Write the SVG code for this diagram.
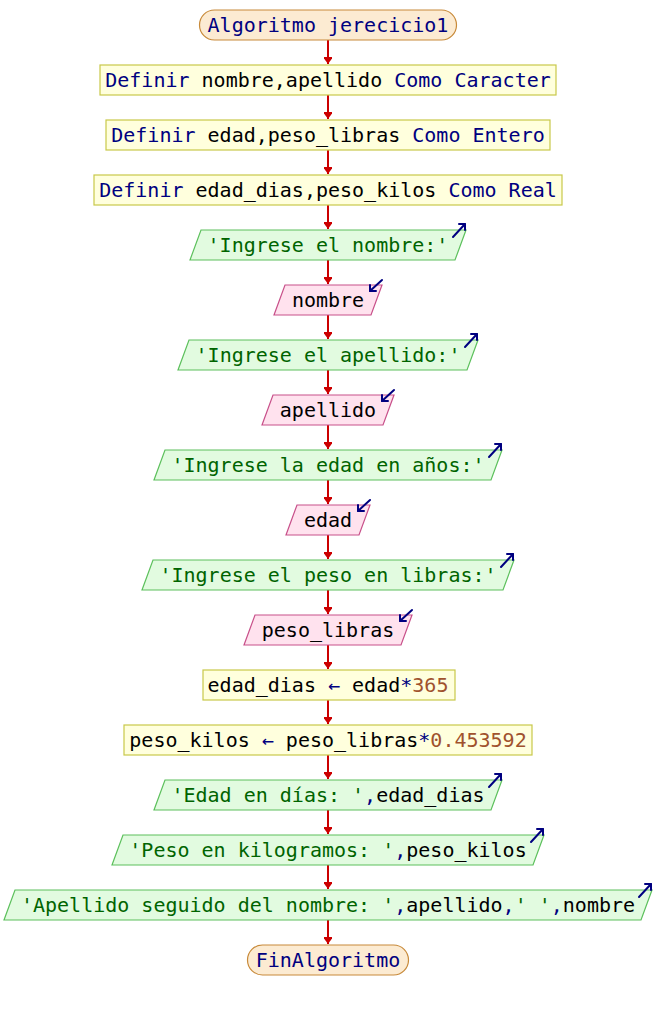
<svg xmlns="http://www.w3.org/2000/svg" width="656" height="1010" viewBox="0 0 656 1010">
<defs>
<style>
text{font-family:"DejaVu Sans Mono","Liberation Mono",monospace;font-size:20px;text-anchor:middle;fill:#000}
.kw{fill:#000080}
.str{fill:#006400}
.num{fill:#a0522d}
.term{fill:#fcebd2;stroke:#c88a3a;stroke-width:1.2}
.proc{fill:#ffffdd;stroke:#c8c84a;stroke-width:1.2}
.out{fill:#e2fbe0;stroke:#5cc05c;stroke-width:1.2}
.in{fill:#ffe2ee;stroke:#c8508a;stroke-width:1.2}
.conn{stroke:#cc0000;stroke-width:2;fill:none}
.ico{stroke:#000080;stroke-width:2;fill:none;stroke-linecap:round;stroke-linejoin:round}
</style>
<marker id="ah" markerUnits="userSpaceOnUse" markerWidth="12" markerHeight="8" refX="7" refY="4" orient="auto">
<path d="M0,-1 L7,4 L0,9 z" fill="#cc0000"/>
</marker>
</defs>
<g id="connectors">
<line class="conn" x1="328" y1="40" x2="328" y2="64" marker-end="url(#ah)"/>
<line class="conn" x1="328" y1="95" x2="328" y2="119" marker-end="url(#ah)"/>
<line class="conn" x1="328" y1="150" x2="328" y2="174" marker-end="url(#ah)"/>
<line class="conn" x1="328" y1="205" x2="328" y2="229" marker-end="url(#ah)"/>
<line class="conn" x1="328" y1="260" x2="328" y2="284" marker-end="url(#ah)"/>
<line class="conn" x1="328" y1="315" x2="328" y2="339" marker-end="url(#ah)"/>
<line class="conn" x1="328" y1="370" x2="328" y2="394" marker-end="url(#ah)"/>
<line class="conn" x1="328" y1="425" x2="328" y2="449" marker-end="url(#ah)"/>
<line class="conn" x1="328" y1="480" x2="328" y2="504" marker-end="url(#ah)"/>
<line class="conn" x1="328" y1="535" x2="328" y2="559" marker-end="url(#ah)"/>
<line class="conn" x1="328" y1="590" x2="328" y2="614" marker-end="url(#ah)"/>
<line class="conn" x1="328" y1="645" x2="328" y2="669" marker-end="url(#ah)"/>
<line class="conn" x1="328" y1="700" x2="328" y2="724" marker-end="url(#ah)"/>
<line class="conn" x1="328" y1="755" x2="328" y2="779" marker-end="url(#ah)"/>
<line class="conn" x1="328" y1="810" x2="328" y2="834" marker-end="url(#ah)"/>
<line class="conn" x1="328" y1="865" x2="328" y2="889" marker-end="url(#ah)"/>
<line class="conn" x1="328" y1="920" x2="328" y2="944" marker-end="url(#ah)"/>
</g>
<g id="n0">
<rect class="term" x="199.5" y="10" width="257" height="30" rx="15"/>
<text x="328" y="32" class="kw">Algoritmo jerecicio1</text>
</g>
<g id="n1">
<rect class="proc" x="100" y="65" width="456" height="30"/>
<text x="328" y="87"><tspan class="kw">Definir </tspan><tspan>nombre,apellido </tspan><tspan class="kw">Como Caracter</tspan></text>
</g>
<g id="n2">
<rect class="proc" x="106" y="120" width="444" height="30"/>
<text x="328" y="142"><tspan class="kw">Definir </tspan><tspan>edad,peso_libras </tspan><tspan class="kw">Como Entero</tspan></text>
</g>
<g id="n3">
<rect class="proc" x="94" y="175" width="468" height="30"/>
<text x="328" y="197"><tspan class="kw">Definir </tspan><tspan>edad_dias,peso_kilos </tspan><tspan class="kw">Como Real</tspan></text>
</g>
<g id="n4">
<polygon class="out" points="201,230 466,230 455,260 190,260"/>
<text x="328" y="252" class="str">'Ingrese el nombre:'</text>
<polyline class="ico" points="453,237 465,224"/><polyline class="ico" points="459,224 465,224 465,230"/>
</g>
<g id="n5">
<polygon class="in" points="285,285 382,285 371,315 274,315"/>
<text x="328" y="307">nombre</text>
<polyline class="ico" points="382,280 370,291"/><polyline class="ico" points="376,291 370,291 370,285"/>
</g>
<g id="n6">
<polygon class="out" points="189,340 478,340 467,370 178,370"/>
<text x="328" y="362" class="str">'Ingrese el apellido:'</text>
<polyline class="ico" points="465,347 477,334"/><polyline class="ico" points="471,334 477,334 477,340"/>
</g>
<g id="n7">
<polygon class="in" points="273,395 394,395 383,425 262,425"/>
<text x="328" y="417">apellido</text>
<polyline class="ico" points="394,390 382,401"/><polyline class="ico" points="388,401 382,401 382,395"/>
</g>
<g id="n8">
<polygon class="out" points="165,450 502,450 491,480 154,480"/>
<text x="328" y="472" class="str">'Ingrese la edad en años:'</text>
<polyline class="ico" points="489,457 501,444"/><polyline class="ico" points="495,444 501,444 501,450"/>
</g>
<g id="n9">
<polygon class="in" points="297,505 370,505 359,535 286,535"/>
<text x="328" y="527">edad</text>
<polyline class="ico" points="370,500 358,511"/><polyline class="ico" points="364,511 358,511 358,505"/>
</g>
<g id="n10">
<polygon class="out" points="153,560 514,560 503,590 142,590"/>
<text x="328" y="582" class="str">'Ingrese el peso en libras:'</text>
<polyline class="ico" points="501,567 513,554"/><polyline class="ico" points="507,554 513,554 513,560"/>
</g>
<g id="n11">
<polygon class="in" points="255,615 412,615 401,645 244,645"/>
<text x="328" y="637">peso_libras</text>
<polyline class="ico" points="412,610 400,621"/><polyline class="ico" points="406,621 400,621 400,615"/>
</g>
<g id="n12">
<rect class="proc" x="203" y="670" width="252" height="30"/>
<text x="328" y="692"><tspan>edad_dias </tspan><tspan class="kw">←</tspan><tspan> edad</tspan><tspan class="kw">*</tspan><tspan class="num">365</tspan></text>
</g>
<g id="n13">
<rect class="proc" x="124" y="725" width="408" height="30"/>
<text x="328" y="747"><tspan>peso_kilos </tspan><tspan class="kw">←</tspan><tspan> peso_libras</tspan><tspan class="kw">*</tspan><tspan class="num">0.453592</tspan></text>
</g>
<g id="n14">
<polygon class="out" points="165,780 502,780 491,810 154,810"/>
<text x="328" y="802" xml:space="preserve"><tspan class="str">'Edad en días: '</tspan><tspan class="kw">,</tspan><tspan>edad_dias</tspan></text>
<polyline class="ico" points="489,787 501,774"/><polyline class="ico" points="495,774 501,774 501,780"/>
</g>
<g id="n15">
<polygon class="out" points="123,835 544,835 533,865 112,865"/>
<text x="328" y="857" xml:space="preserve"><tspan class="str">'Peso en kilogramos: '</tspan><tspan class="kw">,</tspan><tspan>peso_kilos</tspan></text>
<polyline class="ico" points="531,842 543,829"/><polyline class="ico" points="537,829 543,829 543,835"/>
</g>
<g id="n16">
<polygon class="out" points="15,890 652,890 641,920 4,920"/>
<text x="328" y="912" xml:space="preserve"><tspan class="str">'Apellido seguido del nombre: '</tspan><tspan class="kw">,</tspan><tspan>apellido</tspan><tspan class="kw">,</tspan><tspan class="str">' '</tspan><tspan class="kw">,</tspan><tspan>nombre</tspan></text>
<polyline class="ico" points="639,897 651,884"/><polyline class="ico" points="645,884 651,884 651,890"/>
</g>
<g id="n17">
<rect class="term" x="247.5" y="945" width="161" height="30" rx="15"/>
<text x="328" y="967" class="kw">FinAlgoritmo</text>
</g>
</svg>
